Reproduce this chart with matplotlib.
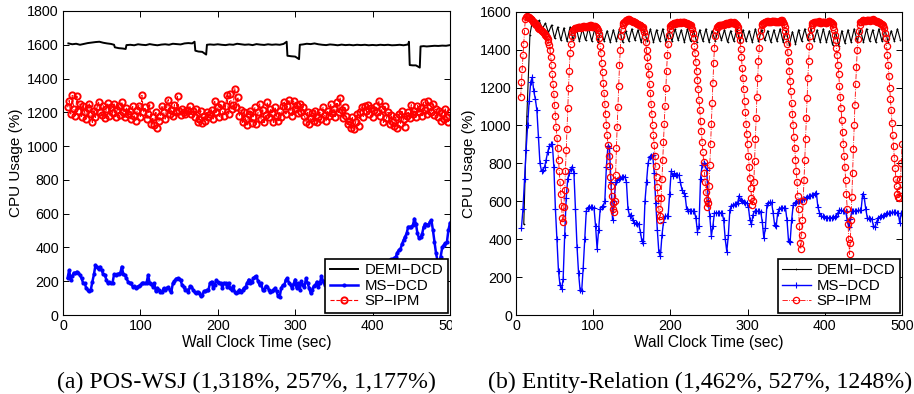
import matplotlib

matplotlib.use("Agg")
import matplotlib.pyplot as plt  # noqa: E402
import numpy as np  # noqa: E402
from matplotlib.transforms import Bbox  # noqa: E402

plt.rcParams["font.family"] = ["Liberation Sans", "DejaVu Sans"]
plt.rcParams["font.size"] = 10

LABELS = ["DEMI\u2212DCD", "MS\u2212DCD", "SP\u2212IPM"]
CAPTIONS = ["(a) POS-WSJ (1,318%, 257%, 1,177%)",
            "(b) Entity-Relation (1,462%, 527%, 1248%)"]

# ---- (a) POS-WSJ -------------------------------------------------------
a_demi_t = [7, 12, 17, 22, 27, 32, 37, 42, 47, 52, 57, 62, 66, 67, 72, 77, 81, 82,
            87, 92, 97, 102, 107, 112, 117, 122, 127, 132, 137, 142, 147, 152, 157,
            162, 167, 170, 171, 175, 180, 185, 186, 190, 195, 200, 205, 210, 215,
            220, 225, 230, 235, 240, 245, 250, 255, 260, 265, 270, 275, 280, 285,
            289, 290, 295, 300, 305, 306, 310, 315, 320, 325, 330, 335, 340, 345,
            350, 355, 360, 365, 370, 375, 380, 385, 390, 395, 400, 405, 410, 415,
            420, 425, 430, 435, 440, 446, 447, 448, 452, 456, 461, 462, 466, 470,
            475, 480, 485, 490, 495, 500]
a_demi = [1608, 1603, 1606, 1600, 1605, 1610, 1613, 1616, 1618, 1612, 1608, 1605,
          1600, 1585, 1580, 1578, 1575, 1598, 1600, 1597, 1603, 1600, 1598, 1604,
          1600, 1597, 1601, 1603, 1600, 1606, 1604, 1602, 1608, 1610, 1608, 1618,
          1565, 1560, 1558, 1542, 1600, 1602, 1600, 1603, 1600, 1598, 1602, 1600,
          1606, 1603, 1600, 1602, 1598, 1604, 1601, 1599, 1603, 1600, 1602, 1600,
          1605, 1618, 1535, 1532, 1530, 1515, 1600, 1602, 1606, 1604, 1608, 1603,
          1600, 1598, 1602, 1600, 1597, 1601, 1598, 1600, 1597, 1600, 1598, 1600,
          1597, 1599, 1597, 1600, 1598, 1600, 1597, 1598, 1600, 1597, 1602, 1618,
          1480, 1478, 1478, 1465, 1590, 1592, 1590, 1592, 1594, 1593, 1595, 1594,
          1598]

# sampled every 2 s from t = 6
a_ms = [220, 266, 210, 230, 250, 247, 256, 247, 237, 217,
        190, 188, 160, 148, 140, 150, 197, 240, 296, 286,
        270, 286, 266, 240, 237, 210, 188, 195, 188, 190,
        240, 237, 240, 245, 247, 286, 240, 237, 217, 198,
        190, 188, 168, 170, 160, 168, 170, 175, 188, 190,
        188, 190, 237, 190, 185, 168, 188, 140, 160, 148,
        135, 138, 158, 150, 160, 165, 150, 138, 188, 200,
        215, 217, 215, 205, 175, 168, 148, 150, 135, 170,
        168, 150, 135, 130, 138, 128, 110, 120, 140, 140,
        148, 150, 190, 197, 160, 175, 207, 195, 190, 188,
        160, 190, 188, 168, 190, 160, 148, 170, 138, 132,
        138, 150, 135, 148, 160, 168, 190, 210, 188, 197,
        217, 227, 231, 200, 178, 190, 150, 148, 170, 168,
        150, 138, 140, 150, 160, 140, 110, 108, 160, 175,
        178, 210, 217, 190, 180, 160, 185, 210, 160, 188,
        150, 200, 175, 168, 217, 190, 160, 130, 150, 170,
        175, 197, 168, 190, 231, 200, 180, 175, 190, 198,
        200, 205, 210, 200, 215, 210, 220, 230, 225, 235,
        240, 230, 245, 250, 240, 255, 260, 250, 265, 270,
        260, 275, 270, 280, 275, 285, 290, 280, 295, 300,
        290, 305, 300, 310, 305, 315, 320, 310, 325, 330,
        330, 336, 345, 370, 385, 389, 420, 443, 463, 483,
        522, 522, 522, 530, 570, 541, 483, 455, 460, 480,
        522, 541, 535, 531, 551, 562, 502, 434, 365, 320,
        300, 346, 400, 414, 424, 430, 502, 545]

# sampled every 2 s from t = 6
a_sp = [1230, 1270, 1190, 1300, 1220, 1180, 1295, 1210, 1250, 1175,
        1240, 1200, 1160, 1225, 1250, 1190, 1140, 1210, 1170, 1230,
        1260, 1200, 1185, 1240, 1165, 1220, 1255, 1180, 1230, 1195,
        1250, 1175, 1215, 1240, 1185, 1260, 1200, 1170, 1225, 1190,
        1210, 1160, 1235, 1180, 1150, 1215, 1240, 1175, 1300, 1200,
        1230, 1160, 1190, 1245, 1130, 1170, 1125, 1200, 1110, 1150,
        1180, 1240, 1200, 1160, 1230, 1275, 1190, 1215, 1180, 1245,
        1200, 1295, 1210, 1185, 1220, 1200, 1190, 1215, 1205, 1235,
        1190, 1205, 1175, 1220, 1140, 1160, 1210, 1135, 1180, 1150,
        1200, 1170, 1190, 1215, 1160, 1265, 1200, 1230, 1175, 1250,
        1210, 1180, 1235, 1300, 1190, 1310, 1220, 1245, 1340, 1230,
        1290, 1180, 1215, 1140, 1200, 1160, 1125, 1190, 1210, 1135,
        1175, 1230, 1130, 1200, 1250, 1160, 1215, 1140, 1185, 1260,
        1170, 1220, 1195, 1140, 1230, 1180, 1150, 1205, 1175, 1240,
        1260, 1190, 1235, 1275, 1210, 1180, 1265, 1220, 1245, 1195,
        1250, 1200, 1230, 1180, 1145, 1200, 1130, 1165, 1195, 1150,
        1210, 1140, 1175, 1200, 1160, 1230, 1185, 1150, 1210, 1180,
        1250, 1195, 1220, 1175, 1260, 1200, 1285, 1215, 1165, 1230,
        1180, 1130, 1150, 1105, 1170, 1100, 1140, 1190, 1120, 1200,
        1230, 1175, 1240, 1205, 1245, 1190, 1225, 1170, 1215, 1235,
        1200, 1270, 1180, 1220, 1140, 1240, 1165, 1200, 1130, 1185,
        1145, 1120, 1170, 1110, 1190, 1130, 1205, 1160, 1115, 1180,
        1200, 1165, 1245, 1190, 1210, 1170, 1240, 1200, 1225, 1180,
        1260, 1215, 1190, 1265, 1235, 1200, 1250, 1185, 1220, 1175,
        1210, 1150, 1195, 1160, 1220, 1175, 1145, 1200]

# ---- (b) Entity-Relation -----------------------------------------------
# sampled every 4 s from t = 10
b_demi = [480, 1050, 1480, 1570, 1535, 1555, 1510, 1540, 1490, 1530,
          1460, 1520, 1450, 1515, 1445, 1520, 1450, 1515, 1445, 1510,
          1450, 1515, 1445, 1510, 1440, 1505, 1445, 1500, 1440, 1505,
          1445, 1510, 1440, 1500, 1445, 1510, 1450, 1505, 1440, 1500,
          1445, 1510, 1440, 1505, 1445, 1510, 1440, 1500, 1445, 1510,
          1450, 1505, 1440, 1510, 1445, 1500, 1440, 1505, 1445, 1510,
          1440, 1500, 1445, 1510, 1450, 1505, 1440, 1500, 1445, 1510,
          1440, 1505, 1445, 1500, 1440, 1510, 1445, 1505, 1450, 1500,
          1440, 1505, 1445, 1510, 1440, 1500, 1425, 1495, 1430, 1505,
          1445, 1510, 1450, 1515, 1445, 1505, 1440, 1510, 1440, 1500,
          1425, 1495, 1420, 1500, 1435, 1505, 1440, 1510, 1445, 1505,
          1440, 1510, 1445, 1505, 1440, 1510, 1445, 1505, 1440, 1500,
          1445, 1510, 1450]

# sampled every 2 s from t = 7
b_ms = [461, 560, 720, 870, 1000, 1130, 1230, 1255, 1180, 1140,
        1080, 940, 800, 760, 765, 783, 820, 860, 890, 900,
        904, 780, 560, 400, 230, 157, 135, 190, 420, 620,
        720, 748, 770, 783, 748, 560, 360, 220, 130, 125,
        250, 400, 550, 565, 570, 570, 568, 565, 470, 350,
        450, 560, 570, 574, 600, 780, 890, 880, 700, 500,
        600, 700, 710, 720, 725, 728, 730, 730, 700, 560,
        525, 530, 500, 487, 485, 480, 478, 440, 390, 380,
        600, 700, 800, 835, 840, 843, 750, 590, 450, 330,
        310, 420, 490, 522, 522, 522, 640, 760, 735, 748,
        740, 740, 738, 700, 660, 643, 630, 560, 548, 548,
        548, 548, 548, 510, 440, 470, 720, 790, 800, 790,
        765, 600, 520, 417, 470, 539, 539, 539, 539, 539,
        539, 500, 400, 335, 420, 556, 574, 580, 585, 588,
        591, 630, 605, 600, 595, 592, 591, 570, 500, 480,
        530, 548, 548, 548, 548, 545, 490, 405, 460, 580,
        593, 595, 595, 540, 475, 470, 539, 560, 565, 565,
        565, 565, 500, 390, 385, 500, 580, 591, 598, 600,
        600, 605, 609, 612, 617, 622, 626, 630, 632, 635,
        640, 645, 570, 540, 525, 520, 515, 513, 513, 513,
        513, 513, 515, 518, 522, 540, 556, 553, 550, 548,
        548, 500, 465, 505, 548, 548, 548, 550, 552, 553,
        556, 640, 620, 560, 513, 510, 508, 504, 470, 465,
        490, 513, 515, 520, 522, 528, 532, 536, 538, 540,
        543, 543, 542, 540, 539, 487, 539]

# sampled every 1 s from t = 6
b_sp = [1150, 1230, 1300, 1370, 1430, 1500, 1560, 1575, 1578,
        1575, 1572, 1570, 1565, 1562, 1560, 1555, 1548, 1545, 1540,
        1535, 1532, 1528, 1522, 1515, 1510, 1508, 1505, 1500, 1498,
        1495, 1490, 1485, 1478, 1472, 1465, 1455, 1440, 1425,
        1400, 1360, 1320, 1270, 1220, 1165, 1110, 1050, 990, 935,
        880, 820, 760, 700, 640, 575, 510,
        490, 570, 660, 760, 870, 980, 1090, 1200, 1290, 1380, 1430, 1470, 1495,
        1505, 1508, 1512, 1515, 1515, 1517, 1518, 1520, 1520, 1518,
        1515, 1520, 1522, 1525, 1525, 1522, 1520, 1522, 1525, 1525,
        1522, 1525, 1528, 1528, 1525, 1522, 1522, 1525, 1525, 1522,
        1520, 1515, 1505,
        1485, 1460, 1420, 1380, 1330, 1280, 1225, 1170, 1115, 1060,
        1005, 950, 895, 840, 785, 730, 680, 630, 590, 560,
        545, 600, 740, 880, 990, 1100, 1210, 1320, 1400, 1470, 1510, 1530,
        1540, 1545, 1548, 1552, 1555, 1558, 1560, 1560, 1558, 1555,
        1552, 1550, 1550, 1548, 1546, 1545, 1542, 1540, 1538, 1535,
        1532, 1530, 1528, 1525, 1522, 1518, 1510, 1495,
        1470, 1440, 1400, 1360, 1315, 1270, 1220, 1170, 1115, 1060,
        1005, 950, 895, 840, 785, 730, 675, 620, 560, 500,
        520, 620, 720, 820, 915, 1010, 1105, 1200, 1285, 1370, 1430, 1480, 1510,
        1525, 1530, 1535, 1538, 1540, 1540, 1538, 1542, 1545, 1542,
        1540, 1542, 1545, 1545, 1542, 1545, 1548, 1548, 1545, 1542,
        1540, 1540, 1538, 1536, 1535, 1532, 1530, 1522, 1510,
        1490, 1460, 1420, 1380, 1335, 1290, 1240, 1190, 1135, 1080,
        1025, 970, 915, 860, 805, 750, 700, 650, 605, 570,
        590, 680, 790, 900, 1010, 1120, 1225, 1330, 1410, 1470, 1505,
        1520, 1522, 1525, 1528, 1530, 1530, 1532, 1530, 1528, 1532,
        1535, 1538, 1540, 1540, 1538, 1540, 1542, 1545, 1545, 1542,
        1540, 1542, 1545, 1542, 1538, 1535, 1530, 1520, 1505,
        1480, 1450, 1405, 1360, 1305, 1250, 1190, 1130, 1070, 1010,
        955, 900, 840, 780, 725, 670, 620, 580,
        600, 700, 815, 930, 1040, 1150, 1250, 1340, 1410, 1470, 1505, 1530,
        1535, 1540, 1542, 1545, 1546, 1548, 1550, 1550, 1548, 1545,
        1546, 1548, 1550, 1552, 1552, 1550, 1549, 1548, 1546, 1545,
        1546, 1548, 1550, 1552, 1554, 1555, 1552, 1545, 1535, 1520,
        1498, 1470, 1430, 1390, 1340, 1290, 1235, 1180, 1120, 1060,
        1000, 940, 880, 820, 760, 700, 630, 560, 470, 380,
        350, 420, 500,
        600, 710, 820, 930, 1040, 1145, 1250, 1340, 1420, 1470, 1510, 1530,
        1540, 1542, 1545, 1546, 1548, 1546, 1545, 1548, 1550, 1545,
        1540, 1542, 1545, 1546, 1548, 1546, 1545, 1542, 1540, 1545,
        1548, 1550, 1552, 1548, 1545, 1540, 1535, 1522, 1505,
        1480, 1450, 1410, 1370, 1320, 1270, 1210, 1150, 1090, 1030,
        965, 900, 840, 780, 710, 640, 560, 480, 400, 320,
        380, 500, 625, 750, 875, 1000, 1110, 1220, 1310, 1400, 1455, 1500,
        1530, 1545,
        1548, 1552, 1554, 1555, 1552, 1550, 1552, 1555, 1557, 1558,
        1555, 1552, 1554, 1555, 1558, 1560, 1558, 1555, 1552, 1550,
        1549, 1548, 1546, 1545, 1542, 1540, 1538, 1535, 1530, 1525,
        1512,
        1490, 1460, 1420, 1370, 1320, 1260, 1200, 1140, 1080, 1015,
        950, 890, 830, 775, 720, 680, 640, 625, 620,
        660, 720, 800, 900]


def times(start, step, values):
    return start + step * np.arange(len(values))


def style_axes(ax, ymax):
    ax.set_xlim(0, 500)
    ax.set_ylim(0, ymax)
    ax.set_xticks(np.arange(0, 501, 100))
    ax.set_yticks(np.arange(0, ymax + 1, 200))
    ax.tick_params(direction="in", top=True, right=True, length=4,
                   width=0.7, labelsize=10.3, pad=3)
    for sp in ax.spines.values():
        sp.set_linewidth(0.8)
    ax.set_xlabel("Wall Clock Time (sec)", fontsize=11.2, labelpad=1)
    ax.set_ylabel("CPU Usage (%)", fontsize=11, labelpad=3)


def add_legend(ax):
    leg = ax.legend(LABELS, loc="lower right", fancybox=False, framealpha=1,
                    edgecolor="black", fontsize=10.8, borderaxespad=0.15,
                    handlelength=1.9, handletextpad=0.4, labelspacing=0.1,
                    borderpad=0.3)
    leg.get_frame().set_linewidth(1.2)


fig = plt.figure(figsize=(9.14, 3.94), dpi=100)
ax1 = fig.add_axes([0.0689, 0.2005, 0.4234, 0.7716])
ax2 = fig.add_axes([0.5646, 0.2005, 0.4223, 0.7696])

ax1.plot(a_demi_t, a_demi, color="black", lw=1.4)
ax1.plot(times(6, 2, a_ms), a_ms, color="#0000ff", lw=1.8, marker=".",
         ms=4)
ax1.plot(times(6, 2, a_sp), a_sp, color="#ff0000", ls="--", lw=0.8,
         marker="o", ms=4.5, mfc="none", mew=1.4)
style_axes(ax1, 1800)
add_legend(ax1)

ax2.plot(times(10, 4, b_demi), b_demi, color="black", lw=0.8, marker="+",
         ms=2, mew=0.5)
ax2.plot(times(7, 2, b_ms), b_ms, color="#0000ff", lw=1.0, marker="+",
         ms=4, mew=0.8)
ax2.plot(times(6, 1, b_sp), b_sp, color="#ff0000", ls="-.", lw=0.6,
         marker="o", ms=4.5, mfc="none", mew=0.9)
style_axes(ax2, 1600)
add_legend(ax2)

for x, text in zip([246.7 / 914, 700 / 914], CAPTIONS):
    fig.text(x, 1 - 382 / 394, text, ha="center", va="center",
             family="Liberation Serif", fontsize=17.2)

# the last tick label of panel (a) is cut by the gap between panels
fig.canvas.draw()
for lbl in ax1.get_xticklabels():
    if lbl.get_text() == "500":
        lbl.set_clip_box(Bbox([[0, 0], [452, 394]]))
        lbl.set_clip_on(True)

fig.savefig("out.png", dpi=100)
